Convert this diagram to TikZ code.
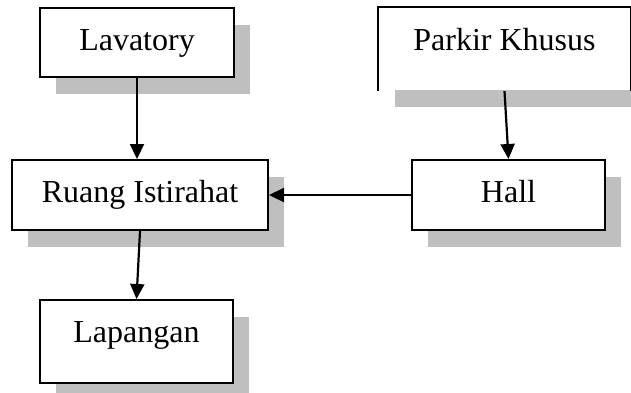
\documentclass[tikz,border=0pt]{standalone}
\usepackage{fontspec}
\setmainfont{Liberation Serif}
\usetikzlibrary{positioning, shadows, arrows.meta}

\begin{document}
\begin{tikzpicture}[x=1pt, y=-1pt,
    room/.style={fill=white, line width=2pt, inner xsep=0pt, inner ysep=0pt,
        text height=42pt, text depth=28pt, font=\fontsize{32}{38}\selectfont,
        drop shadow={shadow xshift=16pt, shadow yshift=-17pt, fill=black!25, opacity=1}},
    link/.style={line width=2.2pt, -{Triangle[length=15pt, width=14pt]}}]
    \path[use as bounding box, clip] (0,0) rectangle (631,392);

    \node[room, draw, minimum width=256pt] (ruang) at (140,195) {Ruang Istirahat};
    \node[room, draw, minimum width=194pt, above=81pt of ruang, xshift=-3pt, text depth=27pt] (lav) {Lavatory};
    \node[room, draw, minimum width=193pt, below=68pt of ruang, xshift=-3.5pt, text depth=41pt] (lap) {Lapangan};
    \node[room, draw, minimum width=193pt, right=142pt of ruang] (hall) {Hall};
    \node[room, minimum width=251pt, above=68pt of hall, xshift=-4pt, text depth=40pt] (park) {Parkir Khusus};
    \draw[line width=2pt] (park.south west) -- (park.north west) -- (park.north east) -- (park.south east);

    \draw[link] (lav.south) -- (lav.south |- ruang.north);
    \draw[link] (park.south) -- (hall.north);
    \draw[link] (hall.west) -- (ruang.east);
    \draw[link] (ruang.south) -- (lap.north);
\end{tikzpicture}
\end{document}
